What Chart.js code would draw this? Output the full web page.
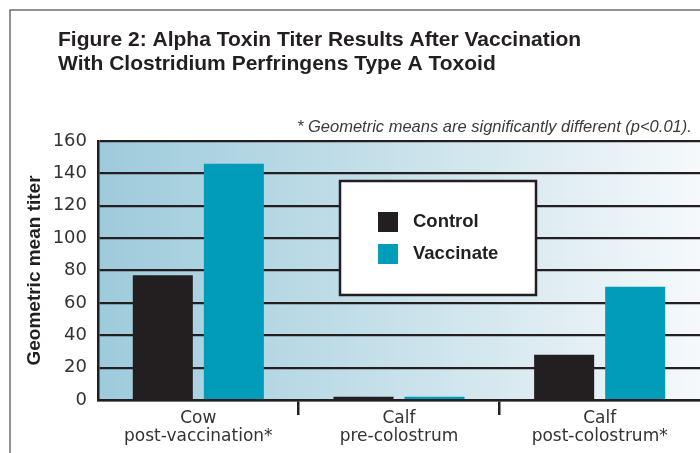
<!DOCTYPE html>
<html>
<head>
<meta charset="utf-8">
<script src="https://cdn.jsdelivr.net/npm/chart.js@4"></script>
<style>
  html, body { margin: 0; padding: 0; background: #fff; overflow: hidden; }
  #wrap { position: absolute; left: 0; top: 0; width: 720px; height: 453px; }
</style>
</head>
<body>
<div id="wrap"><canvas id="titerChart"></canvas></div>
<script>
(() => {
  'use strict';

  const categories = [['Cow', 'post-vaccination*'], ['Calf', 'pre-colostrum'], ['Calf', 'post-colostrum*']];
  const controlValues = [77, 2, 28];
  const vaccinateValues = [146, 2, 70];
  const yMin = 0;
  const yMax = 160;
  const yStep = 20;

  const titleLines = ['Figure 2: Alpha Toxin Titer Results After Vaccination', 'With Clostridium Perfringens Type A Toxoid'];
  const footnote = '* Geometric means are significantly different (p<0.01).';
  const yTitle = 'Geometric mean titer';

  const ink = '#231f20';
  const teal = '#009cb9';
  const sans = '"Liberation Sans", Arial, sans-serif';
  const wide = '"DejaVu Sans", sans-serif';

  // background gradient, outer frame, heading and footnote
  const decor = {
    id: 'decor',
    beforeDraw(chart) {
      const { ctx, chartArea: a } = chart;
      ctx.save();
      const g = ctx.createLinearGradient(a.left, 0, a.right, 0);
      g.addColorStop(0, '#9dcbdb');
      g.addColorStop(0.5, '#c8e1ea');
      g.addColorStop(1, '#f5f9fb');
      ctx.fillStyle = g;
      ctx.fillRect(a.left, a.top, a.right - a.left, a.bottom - a.top);

      ctx.strokeStyle = '#6d6e71';
      ctx.lineWidth = 1.5;
      ctx.beginPath();
      ctx.moveTo(10, chart.height);
      ctx.lineTo(10, 10);
      ctx.lineTo(chart.width, 10);
      ctx.stroke();

      ctx.fillStyle = ink;
      ctx.font = 'bold 21px ' + sans;
      ctx.textBaseline = 'alphabetic';
      ctx.textAlign = 'left';
      ctx.fillText(titleLines[0], 58, 46);
      ctx.fillText(titleLines[1], 58, 70);

      ctx.fillStyle = '#3a3a3a';
      ctx.font = 'italic 16.5px ' + sans;
      ctx.textBaseline = 'middle';
      ctx.fillText(footnote, 297, 127);
      ctx.restore();
    }
  };

  // legend box drawn inside the plot
  const legendBox = {
    id: 'legendBox',
    afterDatasetsDraw(chart) {
      const { ctx } = chart;
      ctx.save();
      ctx.fillStyle = '#fff';
      ctx.fillRect(340, 181, 196, 114);
      ctx.strokeStyle = ink;
      ctx.lineWidth = 2.5;
      ctx.strokeRect(340, 181, 196, 114);
      ctx.font = 'bold 18.5px ' + sans;
      ctx.textBaseline = 'middle';
      ctx.textAlign = 'left';
      chart.data.datasets.forEach((ds, i) => {
        const cy = 222 + i * 32;
        ctx.fillStyle = ds.backgroundColor;
        ctx.fillRect(378, cy - 10, 20, 20);
        ctx.fillStyle = ink;
        ctx.fillText(ds.label, 413, cy);
      });
      ctx.restore();
    }
  };

  new Chart(document.getElementById('titerChart'), {
    type: 'bar',
    data: {
      labels: categories,
      datasets: [
        { label: 'Control', data: controlValues, backgroundColor: ink, borderWidth: 0 },
        { label: 'Vaccinate', data: vaccinateValues, backgroundColor: teal, borderWidth: 0 }
      ]
    },
    options: {
      responsive: true,
      maintainAspectRatio: false,
      animation: false,
      events: [],
      categoryPercentage: 0.708,
      barPercentage: 0.845,
      layout: { padding: { left: 0, top: 141, right: 20, bottom: 0 } },
      plugins: { legend: { display: false }, tooltip: { enabled: false }, title: { display: false } },
      scales: {
        x: {
          afterFit: s => { s.height = 53; },
          grid: {
            offset: true,
            drawOnChartArea: false,
            drawTicks: true,
            tickLength: 15,
            lineWidth: 2.5,
            // separator marks only between categories
            color: c => (c.index > 0 && c.index < categories.length ? ink : 'rgba(0,0,0,0)')
          },
          border: { display: true, color: ink, width: 2.5 },
          ticks: {
            color: '#333',
            padding: -6,
            font: { family: wide, size: 17, lineHeight: 1.1 },
            maxRotation: 0,
            autoSkip: false
          }
        },
        y: {
          min: yMin,
          max: yMax,
          afterFit: s => { s.width = 98; },
          grid: { color: ink, lineWidth: 2.2, drawTicks: false },
          border: { display: true, color: ink, width: 2.5 },
          ticks: {
            stepSize: yStep,
            color: '#333',
            padding: 11,
            font: { family: wide, size: 18 }
          },
          title: {
            display: true,
            text: yTitle,
            color: ink,
            font: { family: sans, size: 19, weight: 'bold' },
            padding: { top: 23, bottom: 0 }
          }
        }
      }
    },
    plugins: [decor, legendBox]
  });
})();
</script>
</body>
</html>
